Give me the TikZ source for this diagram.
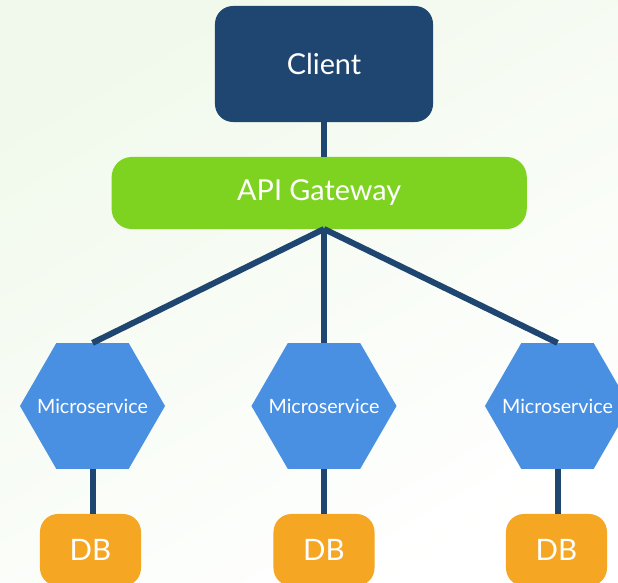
\documentclass[tikz,border=0pt]{standalone}
\usepackage{fontspec}
\setmainfont{Lato}
\usepackage{xcolor}
\usetikzlibrary{shapes,positioning,calc}

\definecolor{navy}{HTML}{1F4571}
\definecolor{lime}{HTML}{7ED321}
\definecolor{skyblue}{HTML}{4A90E2}
\definecolor{amber}{HTML}{F5A623}
\definecolor{paleground}{HTML}{F1F9EC}

\tikzset{
    clientbox/.style={fill=navy, text=white, rounded corners=0.45cm, minimum width=5.45cm, minimum height=2.9cm, font=\fontsize{20.5}{24}\selectfont},
    gatewaybox/.style={fill=lime, text=white, rounded corners=0.5cm, minimum width=10.375cm, minimum height=1.8cm, font=\fontsize{20.5}{24}\selectfont},
    servicehex/.style={regular polygon, regular polygon sides=6, fill=skyblue, text=white, minimum size=3.625cm, inner sep=0pt, font=\fontsize{14}{16}\selectfont},
    dbbox/.style={fill=amber, text=white, rounded corners=0.45cm, minimum width=2.525cm, minimum height=1.8cm, font=\fontsize{21}{24}\selectfont},
    link/.style={draw=navy, line width=0.15cm}
}
% text of a hexagon, kept out of the shape's size
\newcommand{\hexlabel}[1]{\makebox[0pt]{#1}}

\begin{document}
\begin{tikzpicture}[x=0.025cm, y=-0.025cm]
    % Background
    \useasboundingbox (0,0) rectangle (618,583);
    \shade[top color=paleground, bottom color=white, shading angle=30] (0,0) rectangle (618,583);

    % Top of the stack
    \node[clientbox] (client) at (324,64) {Client};
    \node[gatewaybox] (gateway) at (319.2,193) {API Gateway};
    \coordinate (fork) at (324,229);

    % Services and their databases
    \node[servicehex] (svcA) at (92.5,406) {\hexlabel{Microservice}};
    \node[servicehex] (svcB) at (324,406) {\hexlabel{Microservice}};
    \node[servicehex] (svcC) at (557.5,406) {\hexlabel{Microservice}};

    \node[dbbox] (dbA) at (90.5,550) {DB};
    \node[dbbox] (dbB) at (324,550) {DB};
    \node[dbbox] (dbC) at (556.5,550) {DB};

    % Connectors
    \draw[link] (client.south) -- (client.south |- gateway.north);
    \draw[link] (fork) -- (svcA.north);
    \draw[link] (fork) -- (svcB.north);
    \draw[link] (fork) -- (svcC.north);
    \draw[link] (svcA.south) -- (svcA.south |- dbA.north);
    \draw[link] (svcB.south) -- (svcB.south |- dbB.north);
    \draw[link] (svcC.south) -- (svcC.south |- dbC.north);
\end{tikzpicture}
\end{document}
